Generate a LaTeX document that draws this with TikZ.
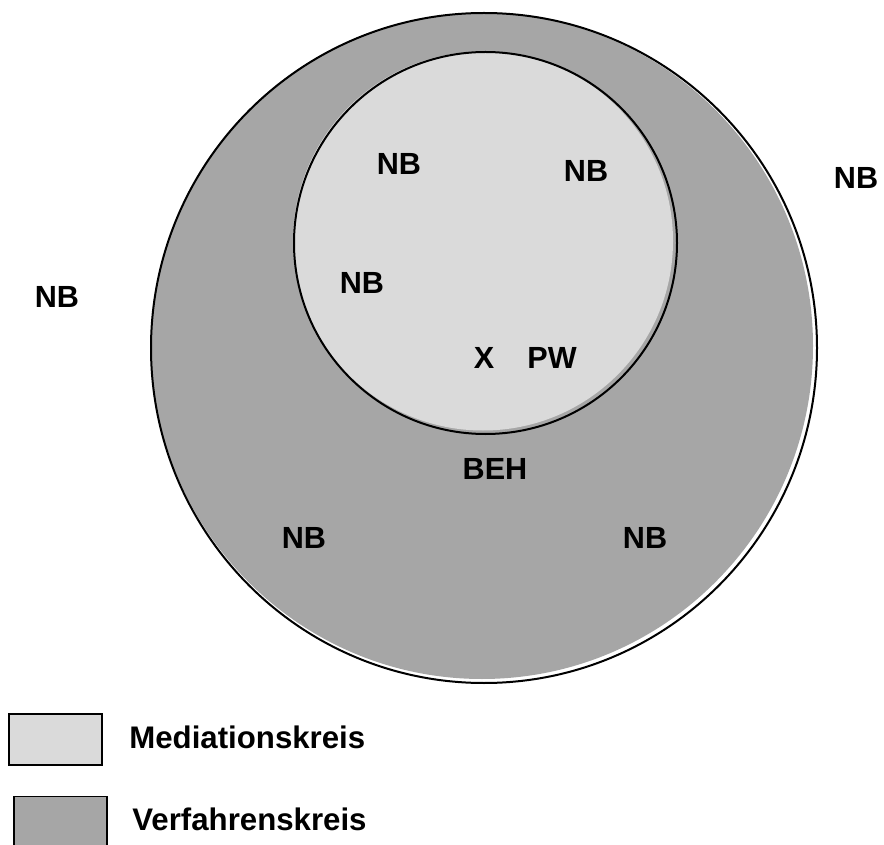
\documentclass[tikz,border=0pt]{standalone}
\usepackage{fontspec}
\setmainfont{Liberation Sans}
\usetikzlibrary{positioning}
\definecolor{mediationfill}{RGB}{218,218,218}
\definecolor{verfahrenfill}{RGB}{166,166,166}
\tikzset{
  circlabel/.style={font=\fontsize{15.3}{18}\selectfont\bfseries, inner sep=0pt},
  legbox/.style={
    rectangle, draw=black, line width=0.8pt,
    minimum width=46.5pt, minimum height=25.5pt, inner sep=0pt
  },
  legtext/.style={font=\fontsize{15.6}{18}\selectfont\bfseries, inner sep=0pt, anchor=west},
  ringline/.style={draw=black, line width=1pt},
}

\begin{document}
\begin{tikzpicture}[x=0.5pt, y=-0.5pt]
  \useasboundingbox (0,0) rectangle (884,845);

  % ── Verfahrenskreis (outer circle) ──
  \fill[verfahrenfill] (482,346) ellipse [x radius=331, y radius=333];
  \draw[ringline] (484,348) ellipse [x radius=333, y radius=335];

  % ── Mediationskreis (inner circle) ──
  \fill[mediationfill] (483,241) ellipse [x radius=190, y radius=189.5];
  \draw[ringline] (485.5,243) ellipse [x radius=191.5, y radius=191];

  % ── Labels inside the inner circle ──
  \node[circlabel] (nbA) at (399,164) {NB};
  \node[circlabel] (nbB) at (586,171) {NB};
  \node[circlabel] (nbC) at (362,283) {NB};
  \node[circlabel] (x)   at (484,358) {X};
  \node[circlabel] (pw)  at (552,358) {PW};

  % ── Labels in the outer ring ──
  \node[circlabel] (beh) at (495,469) {BEH};
  \node[circlabel] (nbD) at (304,538) {NB};
  \node[circlabel] (nbE) at (645,538) {NB};

  % ── Labels outside ──
  \node[circlabel] (nbF) at (856,178) {NB};
  \node[circlabel] (nbG) at (57,297) {NB};

  % ── Legend ──
  \node[legbox, fill=mediationfill] (medbox) at (55.5,739.5) {};
  \node[legtext] (medtext) at (129,737) {Mediationskreis};
  \node[legbox, fill=verfahrenfill] (verbox) at (60.5,822) {};
  \node[legtext] (vertext) at (132,819) {Verfahrenskreis};

\end{tikzpicture}
\end{document}
